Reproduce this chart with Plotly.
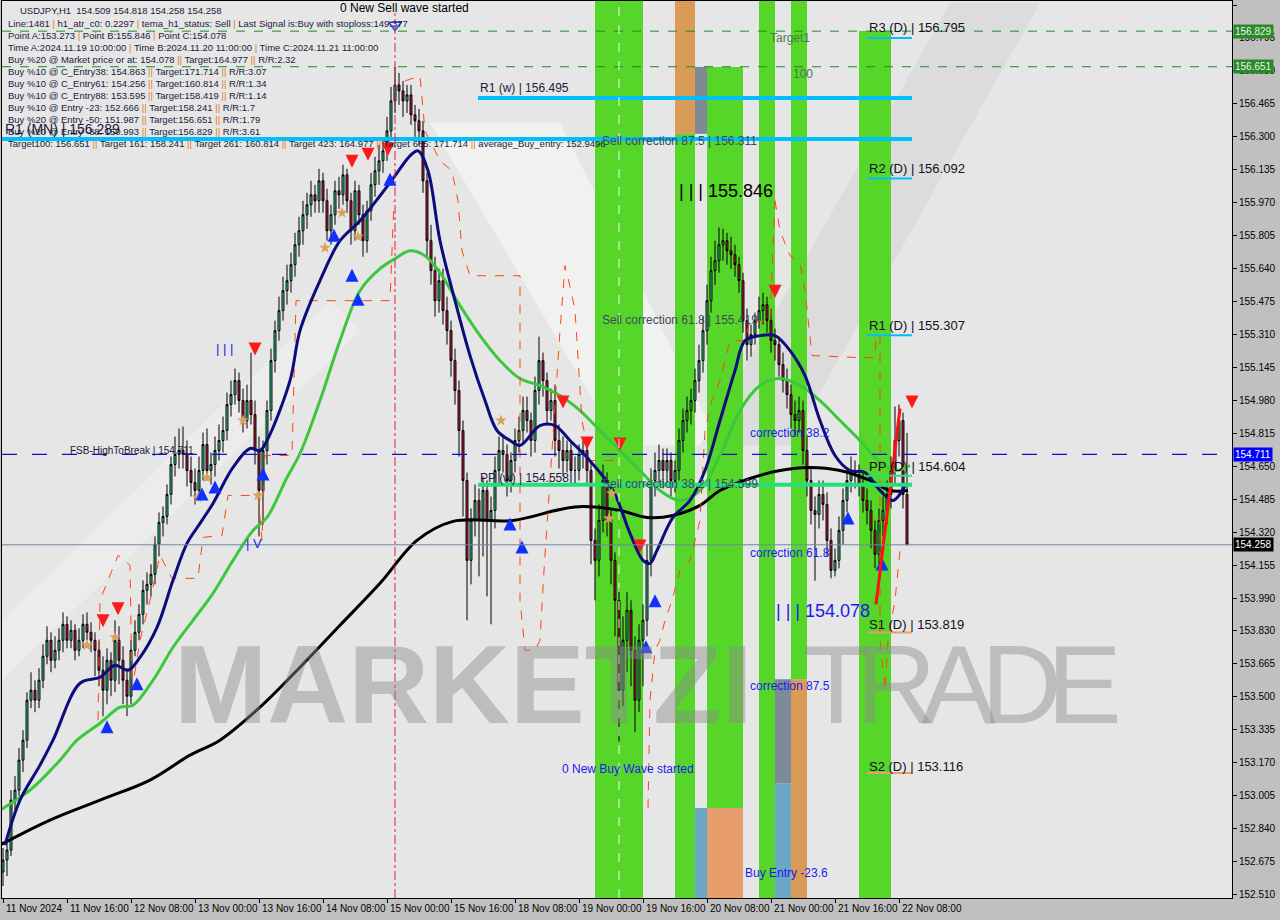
import plotly.graph_objects as go

# ---------------- data ----------------
closes = [
    152.68, 152.73, 152.98, 153.03, 153.18, 153.28, 153.48, 153.53, 153.48, 153.58,
    153.70, 153.78, 153.68, 153.73, 153.78, 153.86, 153.78, 153.83, 153.73, 153.78,
    153.86, 153.82, 153.78, 153.73, 153.63, 153.53, 153.68, 153.58, 153.78, 153.68,
    153.58, 153.50, 153.73, 153.82, 153.91, 154.03, 154.06, 154.11, 154.26, 154.37,
    154.40, 154.51, 154.66, 154.71, 154.73, 154.71, 154.63, 154.57, 154.53, 154.63,
    154.76, 154.63, 154.66, 154.73, 154.78, 154.83, 154.96, 155.01, 155.08, 154.98,
    154.88, 154.98, 154.91, 154.73, 154.53, 154.73, 154.93, 155.18, 155.33, 155.43,
    155.53, 155.58, 155.66, 155.76, 155.83, 155.91, 155.96, 156.01, 155.98, 156.08,
    155.98, 155.83, 155.91, 156.03, 156.01, 156.11, 155.98, 155.83, 156.03, 155.91,
    155.78, 155.93, 156.06, 156.13, 156.18, 156.23, 156.33, 156.48, 156.56, 156.53,
    156.48, 156.51, 156.41, 156.38, 156.33, 156.08, 155.78, 155.63, 155.48, 155.58,
    155.43, 155.33, 155.18, 155.03, 154.83, 154.58, 154.18, 154.38, 154.48, 154.38,
    154.53, 154.38, 154.43, 154.63, 154.73, 154.71, 154.58, 154.68, 154.78, 154.83,
    154.93, 154.88, 154.78, 155.03, 155.18, 155.08, 154.93, 154.98, 154.78, 154.73,
    154.68, 154.73, 154.63, 154.63, 154.71, 154.73, 154.63, 154.28, 154.18, 154.38,
    154.58, 154.38, 154.18, 153.98, 153.53, 153.78, 153.93, 153.73, 153.48, 153.78,
    153.88, 154.18, 154.58, 154.63, 154.68, 154.63, 154.68, 154.58, 154.63, 154.78,
    154.88, 154.93, 154.98, 155.08, 155.18, 155.33, 155.48, 155.63, 155.68, 155.76,
    155.78, 155.73, 155.71, 155.66, 155.58, 155.38, 155.26, 155.31, 155.38, 155.43,
    155.46, 155.38, 155.28, 155.26, 155.16, 155.08, 155.01, 154.91, 154.88, 154.93,
    154.73, 154.58, 154.43, 154.41, 154.51, 154.46, 154.28, 154.13, 154.18, 154.33,
    154.48, 154.58, 154.63, 154.61, 154.56, 154.48, 154.43, 154.33, 154.21, 154.38,
    154.43, 154.51, 154.63, 154.78, 154.88, 154.51, 154.258,
]
highs = [
    152.74, 152.80, 153.03, 153.10, 153.24, 153.33, 153.52, 153.62, 153.58, 153.64,
    153.76, 153.85, 153.82, 153.80, 153.84, 153.92, 153.90, 153.88, 153.86, 153.84,
    153.91, 153.92, 153.87, 153.82, 153.78, 153.70, 153.74, 153.72, 153.88, 153.85,
    153.75, 153.64, 153.78, 153.88, 153.96, 154.08, 154.12, 154.16, 154.30, 154.42,
    154.45, 154.56, 154.70, 154.80, 154.84, 154.85, 154.78, 154.70, 154.64, 154.70,
    154.82, 154.84, 154.72, 154.80, 154.86, 154.90, 155.02, 155.08, 155.14, 155.12,
    155.04, 155.06, 155.22, 154.98, 154.80, 154.78, 154.98, 155.24, 155.38, 155.50,
    155.60, 155.66, 155.72, 155.82, 155.90, 155.98, 156.02, 156.08, 156.06, 156.14,
    156.12, 156.04, 155.96, 156.08, 156.10, 156.16, 156.14, 156.02, 156.08, 156.06,
    155.96, 155.98, 156.12, 156.20, 156.26, 156.28, 156.40, 156.55, 156.65, 156.62,
    156.58, 156.56, 156.56, 156.46, 156.44, 156.38, 156.12, 155.86, 155.70, 155.64,
    155.64, 155.50, 155.38, 155.24, 155.08, 154.88, 154.62, 154.44, 154.56, 154.54,
    154.60, 154.58, 154.50, 154.70, 154.80, 154.80, 154.76, 154.72, 154.84, 154.90,
    155.00, 155.00, 154.92, 155.10, 155.30, 155.22, 155.12, 155.04, 155.06, 154.86,
    154.80, 154.78, 154.78, 154.70, 154.76, 154.78, 154.80, 154.68, 154.34, 154.46,
    154.66, 154.62, 154.44, 154.22, 154.04, 153.90, 154.02, 153.98, 153.80, 153.86,
    153.96, 154.26, 154.64, 154.72, 154.76, 154.74, 154.74, 154.72, 154.68, 154.84,
    154.94, 155.00, 155.04, 155.14, 155.26, 155.40, 155.56, 155.70, 155.78, 155.846,
    155.84, 155.82, 155.80, 155.76, 155.70, 155.62, 155.44, 155.36, 155.42, 155.50,
    155.52, 155.50, 155.44, 155.34, 155.30, 155.22, 155.14, 155.06, 154.98, 155.00,
    154.98, 154.80, 154.64, 154.50, 154.58, 154.58, 154.52, 154.34, 154.24, 154.40,
    154.54, 154.64, 154.70, 154.68, 154.66, 154.62, 154.54, 154.48, 154.38, 154.44,
    154.50, 154.58, 154.70, 154.95, 154.96, 154.92, 154.818,
]
lows = [
    152.55, 152.60, 152.70, 152.93, 153.00, 153.12, 153.24, 153.44, 153.42, 153.44,
    153.54, 153.66, 153.62, 153.64, 153.68, 153.72, 153.74, 153.74, 153.68, 153.70,
    153.74, 153.78, 153.72, 153.60, 153.55, 153.40, 153.46, 153.50, 153.52, 153.56,
    153.46, 153.40, 153.46, 153.70, 153.78, 153.86, 153.96, 154.00, 154.06, 154.20,
    154.30, 154.36, 154.46, 154.60, 154.64, 154.64, 154.55, 154.50, 154.46, 154.48,
    154.58, 154.58, 154.56, 154.60, 154.68, 154.72, 154.78, 154.90, 154.96, 154.92,
    154.82, 154.84, 154.86, 154.66, 154.30, 154.36, 154.66, 154.88, 155.12, 155.28,
    155.38, 155.46, 155.52, 155.60, 155.70, 155.76, 155.84, 155.90, 155.92, 155.92,
    155.92, 155.78, 155.76, 155.86, 155.94, 155.96, 155.92, 155.76, 155.78, 155.86,
    155.70, 155.72, 155.88, 156.00, 156.06, 156.12, 156.18, 156.28, 156.42, 156.46,
    156.40, 156.42, 156.36, 156.30, 156.26, 156.02, 155.70, 155.56, 155.40, 155.42,
    155.36, 155.26, 155.10, 154.96, 154.70, 154.40, 153.88, 154.06, 154.30, 154.10,
    154.20, 154.00, 153.86, 154.34, 154.56, 154.62, 154.50, 154.52, 154.62, 154.72,
    154.76, 154.82, 154.70, 154.72, 154.96, 155.00, 154.86, 154.88, 154.70, 154.64,
    154.60, 154.62, 154.56, 154.56, 154.58, 154.64, 154.56, 154.16, 153.98, 154.10,
    154.32, 154.30, 154.06, 153.80, 153.273, 153.45, 153.62, 153.55, 153.32, 153.42,
    153.55, 153.80, 154.10, 154.50, 154.56, 154.54, 154.56, 154.50, 154.52, 154.58,
    154.72, 154.82, 154.86, 154.92, 155.02, 155.12, 155.26, 155.42, 155.56, 155.62,
    155.68, 155.66, 155.64, 155.60, 155.52, 155.32, 155.18, 155.20, 155.26, 155.34,
    155.36, 155.32, 155.22, 155.18, 155.10, 155.02, 154.94, 154.84, 154.80, 154.82,
    154.66, 154.50, 154.36, 154.078, 154.34, 154.38, 154.20, 154.09, 154.10, 154.14,
    154.26, 154.42, 154.52, 154.54, 154.50, 154.42, 154.36, 154.24, 154.14, 154.16,
    154.30, 154.36, 154.44, 154.56, 154.70, 154.44, 154.258,
]
first_open = 152.62
opens = [first_open] + closes[:-1]
bar_index = list(range(len(closes)))

time_idx = [0, 16, 32, 48, 64, 80, 96, 112, 128, 144, 160, 176, 192, 208, 224]
time_labels = ["11 Nov 2024", "11 Nov 16:00", "12 Nov 08:00", "13 Nov 00:00", "13 Nov 16:00",
               "14 Nov 08:00", "15 Nov 00:00", "15 Nov 16:00", "18 Nov 08:00", "19 Nov 00:00",
               "19 Nov 16:00", "20 Nov 08:00", "21 Nov 00:00", "21 Nov 16:00", "22 Nov 08:00"]
price_ticks = [156.960, 156.795, 156.630, 156.465, 156.300, 156.135, 155.970, 155.805, 155.640,
               155.475, 155.310, 155.145, 154.980, 154.815, 154.650, 154.485, 154.320, 154.155,
               153.990, 153.830, 153.665, 153.500, 153.335, 153.170, 153.005, 152.840, 152.675, 152.510]

navy_idx = [0.5, 4.25, 9.25, 12.5, 19.25, 24.25, 28, 31.25, 34.25, 38.5, 42.5, 46, 49.25, 52.5, 57.5,
            61.75, 64.25, 66, 71.75, 74.25, 79.25, 84.25, 89.25, 94.25, 98, 101.75, 103.75, 106.25,
            109.25, 113, 116.75, 120.5, 123.5, 126.75, 129.25, 134.25, 138, 141.75, 146, 152.5, 156.75,
            160, 161.75, 163.5, 167.5, 171.75, 175.5, 179.25, 183, 185.5, 189.25, 193, 196.75, 200.5,
            204.25, 208, 211.75, 215.5, 219.25, 222.5, 225.5]
navy_val = [152.755, 152.98, 153.155, 153.28, 153.565, 153.595, 153.655, 153.63, 153.695, 153.845,
            154.08, 154.265, 154.365, 154.465, 154.645, 154.74, 154.73, 154.78, 155.08, 155.33, 155.58,
            155.78, 155.88, 156.005, 156.105, 156.205, 156.23, 156.13, 155.78, 155.48, 155.205, 154.98,
            154.83, 154.78, 154.755, 154.855, 154.855, 154.78, 154.695, 154.53, 154.315, 154.18, 154.165,
            154.23, 154.395, 154.48, 154.63, 154.88, 155.13, 155.28, 155.305, 155.305, 155.23, 155.105,
            154.88, 154.705, 154.63, 154.62, 154.53, 154.48, 154.555]

green_idx = [-0.75, 6.75, 14.25, 18.5, 24.25, 29.25, 32.5, 37.5, 42.5, 47.5, 52.5, 57.5, 62.5, 66, 71,
             74.25, 79.25, 84.25, 89.25, 94.25, 98, 101.75, 105.5, 109.25, 114.25, 119.25, 124.25,
             129.25, 134.25, 139.25, 144.25, 149.25, 154.25, 159.25, 164.25, 169.25, 174.25, 179.25,
             184.25, 189.25, 194.25, 199.25, 204.25, 209.25, 214.25, 219.25, 223, 226.75]
green_val = [152.93, 153.03, 153.18, 153.28, 153.365, 153.445, 153.455, 153.58, 153.745, 153.88, 154.015,
             154.18, 154.33, 154.395, 154.595, 154.715, 154.98, 155.28, 155.53, 155.64, 155.69, 155.73,
             155.705, 155.62, 155.455, 155.305, 155.18, 155.09, 155.055, 155.005, 154.93, 154.83, 154.73,
             154.63, 154.53, 154.48, 154.53, 154.705, 154.93, 155.055, 155.09, 155.055, 154.98, 154.88,
             154.78, 154.67, 154.63, 154.655]

black_idx = [-0.75, 11.75, 24.25, 36.75, 46.75, 54.25, 64.25, 74.25, 84.25, 94.25, 103.5, 112.5, 127.5,
             139.25, 145, 154.25, 161, 167.5, 174.25, 179.25, 186.75, 194.25, 201.75, 209.25, 216.75,
             221.75, 226.25]
black_val = [152.755, 152.88, 152.98, 153.08, 153.205, 153.28, 153.445, 153.645, 153.855, 154.065, 154.28,
             154.375, 154.38, 154.435, 154.45, 154.43, 154.395, 154.405, 154.455, 154.53, 154.59, 154.63,
             154.645, 154.63, 154.58, 154.53, 154.53]

# trailing stop dashed lines (bar index, price)
trail1_idx = [23.75, 24.25, 28.75, 31.75, 32.25, 34.25, 36.75, 39.25, 42.25, 48.75, 50, 54.75, 56.25, 63.75,
              64.75, 65.5, 72.25, 73.25, 96.75, 97.75]
trail1_val = [153.38, 153.98, 154.205, 154.155, 153.53, 153.78, 153.98, 154.205, 154.09, 154.09, 154.295,
              154.305, 154.505, 154.505, 154.28, 154.705, 154.705, 155.48, 155.48, 155.98]
trail2_idx = [100.5, 104.25, 105.5, 109.25, 112.25, 113.75, 114.75, 116.75, 129.25, 129.25, 130.5, 133,
              134.25, 135.25, 139.25, 140.5, 142, 143, 144.75, 146.75, 152.25, 154.25]
trail2_val = [156.58, 156.605, 156.33, 156.18, 156.13, 155.98, 155.73, 155.605, 155.605, 153.98, 153.73,
              153.73, 153.78, 154.13, 155.33, 155.655, 155.53, 155.43, 154.88, 154.68, 154.68, 154.705]
trail3_idx = [161.25, 161.75, 163, 164.25, 165.5, 167.25, 169.25, 171.75, 174.25, 175.5, 177.25, 179.25,
              181.75, 185.5, 186.75, 191.75, 193]
trail3_val = [152.94, 153.48, 153.73, 153.78, 153.88, 153.98, 154.13, 154.18, 154.38, 154.83, 154.98, 155.08,
              155.28, 155.28, 155.38, 155.38, 155.98]
trail4_idx = [193, 194.25, 196.75, 199.25, 200.5, 201.75, 202.25, 214.25, 218, 218.25, 219.25, 219.25,
              220.5, 221.25, 223, 224.25, 225.5]
trail4_val = [155.98, 155.83, 155.705, 155.67, 155.53, 155.28, 155.205, 155.195, 155.195, 155.305, 155.305,
              153.78, 153.53, 153.78, 153.98, 154.23, 154.255]

sell_arrow_idx = [25, 28.75, 63, 87.25, 91.25, 96.25, 140, 146, 154.25, 159.25, 193, 227.25]
sell_arrow_val = [153.845, 153.905, 155.205, 156.145, 156.18, 156.205, 154.94, 154.735, 154.73, 154.22, 155.495, 154.94]
buy_arrow_idx = [26, 33.5, 49.75, 53, 65, 82.75, 87.25, 88.75, 96.75, 126.75, 129.75, 160.75, 163, 211.25, 219.75]
buy_arrow_val = [153.38, 153.595, 154.545, 154.58, 154.645, 155.84, 155.64, 155.52, 156.12, 154.395, 154.28, 153.78, 154.01, 154.425, 154.195]
star_idx = [21, 28, 48.75, 51, 63.75, 60, 80.5, 84.75, 88.75, 152.25, 124.5, 151.5]
star_val = [153.755, 153.795, 154.495, 154.595, 154.505, 154.88, 155.745, 155.92, 155.80, 154.515, 154.88, 154.39]


def X(px):
    return (px - 3) / 4.0


def Y(py):
    return 156.98 - py / 200.0


XMIN, XMAX = X(2), X(1232)
YMIN, YMAX = Y(898), Y(0)

fig = go.Figure()
shapes = []


def rect(x0, x1, y0, y1, color, opacity=1.0):
    shapes.append(dict(type="rect", xref="x", yref="y", x0=X(x0), x1=X(x1), y0=Y(y1), y1=Y(y0),
                       fillcolor=color, opacity=opacity, line=dict(width=0), layer="below"))


def hline(price, x0, x1, color, width=1, dash="solid"):
    shapes.append(dict(type="line", xref="x", yref="y", x0=X(x0), x1=X(x1), y0=price, y1=price,
                       line=dict(color=color, width=width, dash=dash), layer="above"))


def vline(px, y0, y1, color, width=1, dash="dash"):
    shapes.append(dict(type="line", xref="x", yref="y", x0=X(px), x1=X(px), y0=Y(y1), y1=Y(y0),
                       line=dict(color=color, width=width, dash=dash), layer="above"))


# faint V logo
shapes.append(dict(type="path", xref="x", yref="y", layer="below",
                   path=f"M {X(430)},{Y(122)} L {X(560)},{Y(122)} L {X(720)},{Y(445)} L {X(620)},{Y(445)} Z",
                   fillcolor="rgba(255,255,255,0.45)", line=dict(width=0)))
shapes.append(dict(type="path", xref="x", yref="y", layer="below",
                   path=f"M {X(700)},{Y(445)} L {X(790)},{Y(445)} L {X(1040)},{Y(2)} L {X(950)},{Y(2)} Z",
                   fillcolor="rgba(200,200,200,0.35)", line=dict(width=0)))
shapes.append(dict(type="path", xref="x", yref="y", layer="below",
                   path=f"M {X(2)},{Y(620)} L {X(330)},{Y(300)} L {X(360)},{Y(330)} L {X(2)},{Y(680)} Z",
                   fillcolor="rgba(255,255,255,0.25)", line=dict(width=0)))

GREEN = "#57d62a"
rect(595, 643, 0, 898, GREEN)
rect(675, 695, 0, 133, "#d99b55")
rect(675, 695, 133, 898, GREEN)
rect(695, 707, 66, 133, "#7d8a96")
rect(695, 707, 808, 898, "#6aa7c6")
rect(707, 743, 66, 808, GREEN)
rect(707, 743, 808, 898, "#e89d6c")
rect(759, 775, 0, 898, GREEN)
rect(775, 791, 679, 783, "#7d8a98")
rect(775, 791, 783, 898, "#6aa7c6")
rect(791, 807, 0, 679, GREEN)
rect(791, 807, 679, 898, "#d99b55")
rect(859, 891, 30, 898, GREEN)

# horizontal levels
hline(156.829, 2, 1232, "#1f8a1f", 1, "dash")
hline(156.651, 2, 1232, "#1f8a1f", 1, "dash")
hline(154.711, 2, 1232, "#1010c8", 1.2, "longdash")
hline(154.258, 2, 1232, "#7088a0", 1)
hline(156.495, 478, 912, "#00bfff", 4)
hline(156.289, 2, 912, "#00bfff", 4)
hline(154.558, 478, 912, "#22e07c", 4)
hline(156.795, 867, 912, "#00bfff", 2)
hline(156.092, 867, 912, "#00bfff", 2)
hline(155.307, 867, 912, "#00bfff", 2)
hline(154.604, 867, 912, "#22e07c", 2)
hline(153.819, 867, 912, "#e0a070", 2)
hline(153.116, 867, 912, "#e0a070", 2)
vline(395, 12, 898, "#e0204a", 1, "dashdot")
vline(619, 0, 898, "#f4f4f4", 1, "dash")

# watermark (behind)
annotations = []
annotations.append(dict(x=X(172), y=Y(684), text="<b>MARKETZI</b>", showarrow=False, xanchor="left",
                        yanchor="middle", font=dict(size=112, color="rgba(140,140,140,0.45)", family="Liberation Sans")))
annotations.append(dict(x=X(800), y=Y(684), text="<span style='letter-spacing:-15px'>TRADE</span>", showarrow=False,
                        xanchor="left", yanchor="middle",
                        font=dict(size=112, color="rgba(140,140,140,0.45)", family="Liberation Sans")))

# traces
fig.add_trace(go.Scatter(x=black_idx, y=black_val, mode="lines", line=dict(color="#000000", width=3, shape="spline"), hoverinfo="skip"))
fig.add_trace(go.Scatter(x=green_idx, y=green_val, mode="lines", line=dict(color="#3cc83c", width=3, shape="spline"), hoverinfo="skip"))
for ti, tv in [(trail1_idx, trail1_val), (trail2_idx, trail2_val), (trail3_idx, trail3_val), (trail4_idx, trail4_val)]:
    fig.add_trace(go.Scatter(x=ti, y=tv, mode="lines", line=dict(color="#ff4510", width=1, dash="dash"), hoverinfo="skip"))
fig.add_trace(go.Candlestick(x=bar_index, open=opens, high=highs, low=lows, close=closes,
                             increasing=dict(line=dict(color="#000000", width=1), fillcolor="#3ad68e"),
                             decreasing=dict(line=dict(color="#000000", width=1), fillcolor="#c41f42"),
                             whiskerwidth=0, hoverinfo="skip"))
fig.add_trace(go.Scatter(x=navy_idx, y=navy_val, mode="lines", line=dict(color="#0c0c7c", width=3, shape="spline"), hoverinfo="skip"))
fig.add_trace(go.Scatter(x=star_idx, y=star_val, mode="markers", marker=dict(symbol="star", size=9, color="#d9a35e"), hoverinfo="skip"))
fig.add_trace(go.Scatter(x=sell_arrow_idx, y=sell_arrow_val, mode="markers",
                         marker=dict(symbol="arrow-down", size=13, color="#ff1a1a", line=dict(width=0)), hoverinfo="skip"))
fig.add_trace(go.Scatter(x=buy_arrow_idx, y=buy_arrow_val, mode="markers",
                         marker=dict(symbol="arrow-up", size=13, color="#1030ff", line=dict(width=0)), hoverinfo="skip"))
fig.add_trace(go.Scatter(x=[X(395)], y=[Y(24)], mode="markers",
                         marker=dict(symbol="triangle-down-open", size=11, color="#2040e0", line=dict(width=1.5)), hoverinfo="skip"))
# red impulse line (last swing)
fig.add_trace(go.Scatter(x=[X(876), X(900)], y=[Y(604), Y(408)], mode="lines", line=dict(color="#ff1010", width=3), hoverinfo="skip"))


def txt(px, py, s, size=12, color="#000000", anchor="left", family="Liberation Sans"):
    annotations.append(dict(x=X(px), y=Y(py), text=s, showarrow=False, xanchor=anchor, yanchor="middle",
                            font=dict(size=size, color=color, family=family)))


S = "<span style='color:#e07a20'>|</span>"
SS = "<span style='color:#e07a20'>||</span>"
INFO = "#1b1b3a"
info_lines = [
    (10, "USDJPY,H1  154.509 154.818 154.258 154.258"),
    (23, f"Line:1481 {S} h1_atr_c0: 0.2297 {S} tema_h1_status: Sell {S} Last Signal is:Buy with stoploss:149.377"),
    (35, f"Point A:153.273 {S} Point B:155.846 {S} Point C:154.078"),
    (47, f"Time A:2024.11.19 10:00:00 {S} Time B:2024.11.20 11:00:00 {S} Time C:2024.11.21 11:00:00"),
    (59, f"Buy %20 @ Market price or at: 154.078 {SS} Target:164.977 {SS} R/R:2.32"),
    (71, f"Buy %10 @ C_Entry38: 154.863 {SS} Target:171.714 {SS} R/R:3.07"),
    (83, f"Buy %10 @ C_Entry61: 154.256 {SS} Target:160.814 {SS} R/R:1.34"),
    (95, f"Buy %10 @ C_Entry88: 153.595 {SS} Target:158.419 {SS} R/R:1.14"),
    (107, f"Buy %10 @ Entry -23: 152.666 {SS} Target:158.241 {SS} R/R:1.7"),
    (119, f"Buy %20 @ Entry -50: 151.987 {SS} Target:156.651 {SS} R/R:1.79"),
    (131, f"Buy %20 @ Entry -88: 150.993 {SS} Target:156.829 {SS} R/R:3.61"),
    (143, f"Target100: 156.651 {SS} Target 161: 158.241 {SS} Target 261: 160.814 {SS} Target 423: 164.977 {SS} Target 685: 171.714 {SS} average_Buy_entry: 152.9496"),
]
for i, (py, s) in enumerate(info_lines):
    txt(18 if i == 0 else 6, py, s, size=9.5, color=INFO)

txt(3, 128, "R1 (MN) | 156.289", 14, "#1b1b3a")
txt(338, 7, "0 New Sell wave started", 12, "#000000")
txt(478, 87, "R1 (w) | 156.495", 12, "#1b1b3a")
txt(478, 478, "PP (w) | 154.558", 12, "#1b1b3a")
txt(68, 450, "FSB-HighToBreak | 154.711", 10, "#1b1b3a")
txt(600, 140, "Sell correction 87.5 | 156.311", 12, "#3c4a5a")
txt(600, 319, "Sell correction 61.8 | 155.419", 12, "#3c4a5a")
txt(600, 484, "Sell correction 38.2 | 154.599", 12, "#3c4a5a")
txt(677, 190, "| | | 155.846", 18, "#000000")
txt(774, 611, "| | | 154.078", 18, "#1a1aee")
txt(748, 432, "correction 38.2", 12, "#1a1aee")
txt(748, 553, "correction 61.8", 12, "#1a1aee")
txt(748, 686, "correction 87.5", 12, "#1a1aee")
txt(743, 873, "Buy Entry -23.6", 12, "#1a1aee")
txt(560, 769, "0 New Buy Wave started", 12, "#1a1aee")
txt(768, 37, "Target1", 12, "#4a7a4a")
txt(791, 73, "100", 12, "#4a7a4a")
txt(214, 348, "| | |", 13, "#1a1aee")
txt(244, 543, "| V", 13, "#1a1aee")
txt(867, 27, "R3 (D) | 156.795", 13, "#111122")
txt(867, 168, "R2 (D) | 156.092", 13, "#111122")
txt(867, 325, "R1 (D) | 155.307", 13, "#111122")
txt(867, 466, "PP (D) | 154.604", 13, "#111122")
txt(867, 624, "S1 (D) | 153.819", 13, "#111122")
txt(867, 766, "S2 (D) | 153.116", 13, "#111122")

# time labels (left-aligned at tick, MT4 style)
for ti, tl in zip(time_idx, time_labels):
    annotations.append(dict(x=ti, y=0, xref="x", yref="paper", yanchor="top", xanchor="left", yshift=-3, xshift=1,
                            text=tl, showarrow=False, font=dict(size=10, color="#000000", family="Liberation Sans")))

# price boxes on right axis
for price, bg, fg in [(156.829, "#2a8a2a", "#e8f5e8"), (156.651, "#2a8a2a", "#e8f5e8"),
                      (154.711, "#0000ff", "#ffffff"), (154.258, "#000000", "#ffffff")]:
    annotations.append(dict(x=1, y=price, xref="paper", yref="y", xanchor="left", yanchor="middle", xshift=1,
                            text=f"{price:.3f}", showarrow=False, bgcolor=bg, borderpad=1,
                            font=dict(size=10, color=fg, family="Liberation Sans")))

fig.update_layout(
    width=1280, height=920,
    margin=dict(l=2, r=48, t=1, b=22, autoexpand=False),
    paper_bgcolor="#c0c0c0", plot_bgcolor="#e6e6e6",
    showlegend=False,
    shapes=shapes, annotations=annotations,
    xaxis=dict(range=[XMIN, XMAX], tickvals=time_idx, ticktext=[""] * len(time_idx), ticks="outside",
               ticklen=4, tickcolor="#000000", showgrid=False, zeroline=False, showline=True,
               linecolor="#000000", linewidth=1, mirror=True, rangeslider=dict(visible=False),
               fixedrange=True),
    yaxis=dict(range=[YMIN, YMAX], side="right", tickvals=price_ticks,
               ticktext=[f"{p:.3f}" for p in price_ticks], ticks="outside", ticklen=4, tickcolor="#000000",
               tickfont=dict(size=10, color="#000000", family="Liberation Sans"), showgrid=False,
               zeroline=False, showline=True, linecolor="#000000", linewidth=1, mirror=True),
)

fig.write_html("out.html", config={"displayModeBar": False},
               post_script="document.body.style.margin='0';document.body.style.padding='0';"
                           "document.body.style.overflow='hidden';")
